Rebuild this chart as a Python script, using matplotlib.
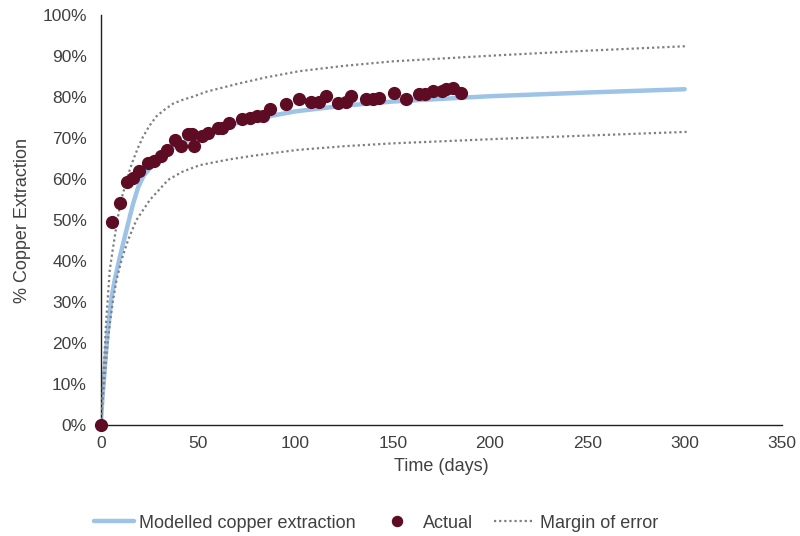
import numpy as np
from matplotlib import pyplot as plt
from matplotlib.ticker import PercentFormatter

# measured points (days, % extraction)
actual_days = [0, 5.8, 9.8, 13.5, 16.6, 19.7, 24, 27.2, 30.8, 34.1, 38, 41, 44.9, 47.1, 48,
               52.2, 55.2, 60.3, 62.5, 65.9, 72.8, 76.6, 80, 83.1, 86.8, 95, 101.7, 107.8,
               112.2, 115.6, 121.9, 125.9, 128.8, 136.2, 139.6, 143, 150.7, 156.7, 163.6,
               166.5, 170.8, 175.1, 177.6, 181, 185]
actual_pct = [0, 49.6, 54.2, 59.3, 60.2, 62.0, 63.8, 64.5, 65.6, 67.2, 69.5, 68.0, 71.0, 71.0,
              68.1, 70.5, 71.3, 72.5, 72.5, 73.6, 74.6, 74.8, 75.4, 75.4, 77.0, 78.2, 79.4,
              78.9, 78.9, 80.2, 78.6, 78.9, 80.3, 79.4, 79.4, 79.7, 80.9, 79.4, 80.7, 80.7,
              81.5, 81.5, 81.9, 82.1, 81.1]

# modelled curve
model_days = [0, 0.5, 1, 2, 3.6, 5.5, 7.2, 9.8, 13.2, 16.6, 19.2, 22, 25, 30, 35, 40, 50,
              60, 75, 100, 125, 150, 200, 250, 300]
model_pct = [0, 4, 7.5, 13.5, 23, 31, 35.5, 41, 47.6, 54, 58, 60.8, 62.5, 65, 66.9, 68.4,
             70.6, 72.3, 74.3, 76.5, 77.9, 78.9, 80.2, 81.1, 81.9]

# margin of error (upper / lower)
upper_days = [0, 0.5, 1, 2.7, 4.6, 6.2, 8.5, 10.5, 12.3, 14, 16.6, 19, 21.7, 25, 28.6, 33,
              37.2, 42, 47.4, 54.3, 71, 85, 102, 125, 150, 205, 250, 301]
upper_pct = [0, 5, 9, 24.8, 37.8, 43, 50, 55, 58, 61, 64.6, 67.5, 70.3, 73, 75.3, 77,
             78.4, 79.3, 80.1, 81.3, 83.3, 84.8, 86.3, 87.6, 88.7, 90.2, 91.3, 92.4]
lower_days = [0, 0.5, 1, 2.2, 3.5, 5, 6.3, 8.1, 10.6, 14, 18.3, 25.2, 34.6, 42, 51, 65, 77,
              101, 125, 150, 205, 250, 301]
lower_pct = [0, 3.3, 6.5, 13, 20, 26, 30.5, 35.4, 40.2, 45.1, 50, 54.9, 59.8, 61.8, 63.4,
             64.7, 65.6, 67.1, 68, 68.7, 69.8, 70.6, 71.5]

plt.rcParams['font.family'] = ['Liberation Sans', 'DejaVu Sans']
text_col = '#404040'

fig = plt.figure(figsize=(8, 5.36), dpi=100)
ax = fig.add_axes([0.126, 0.207, 0.8515, 0.765])

ax.plot(model_days, model_pct, color='#9DC3E6', lw=3.2, solid_capstyle='round',
        solid_joinstyle='round', label='Modelled copper extraction', zorder=2)
ax.plot(actual_days, actual_pct, 'o', color='#5E0B24', markersize=8.5, label='Actual',
        zorder=4, clip_on=False)
ax.plot(upper_days, upper_pct, color='#7F7F7F', lw=1.6, linestyle=(0, (1, 1.3)),
        label='Margin of error', zorder=3)
ax.plot(lower_days, lower_pct, color='#7F7F7F', lw=1.6, linestyle=(0, (1, 1.3)), zorder=3)

ax.set_xlim(0, 350)
ax.set_ylim(0, 100)
ax.set_xticks(np.arange(0, 351, 50))
ax.set_yticks(np.arange(0, 101, 10))
ax.yaxis.set_major_formatter(PercentFormatter(xmax=100, decimals=0))
ax.tick_params(length=0, labelsize=12.5, labelcolor=text_col)
ax.tick_params(axis='y', pad=10)
ax.tick_params(axis='x', pad=8)

for side in ['top', 'right']:
    ax.spines[side].set_visible(False)
for side in ['left', 'bottom']:
    ax.spines[side].set_color('#202020')
    ax.spines[side].set_linewidth(1.0)

ax.set_xlabel('Time (days)', fontsize=13, color=text_col, labelpad=5)
ax.set_ylabel('% Copper Extraction', fontsize=13, color=text_col, labelpad=8)

fig.legend(loc='center', bbox_to_anchor=(0.47, 0.024), ncol=3, frameon=False,
           fontsize=13, handlelength=2.2, handletextpad=0.3, columnspacing=1.2,
           markerscale=0.85, labelcolor=text_col)

plt.savefig('out.png', dpi=100)
